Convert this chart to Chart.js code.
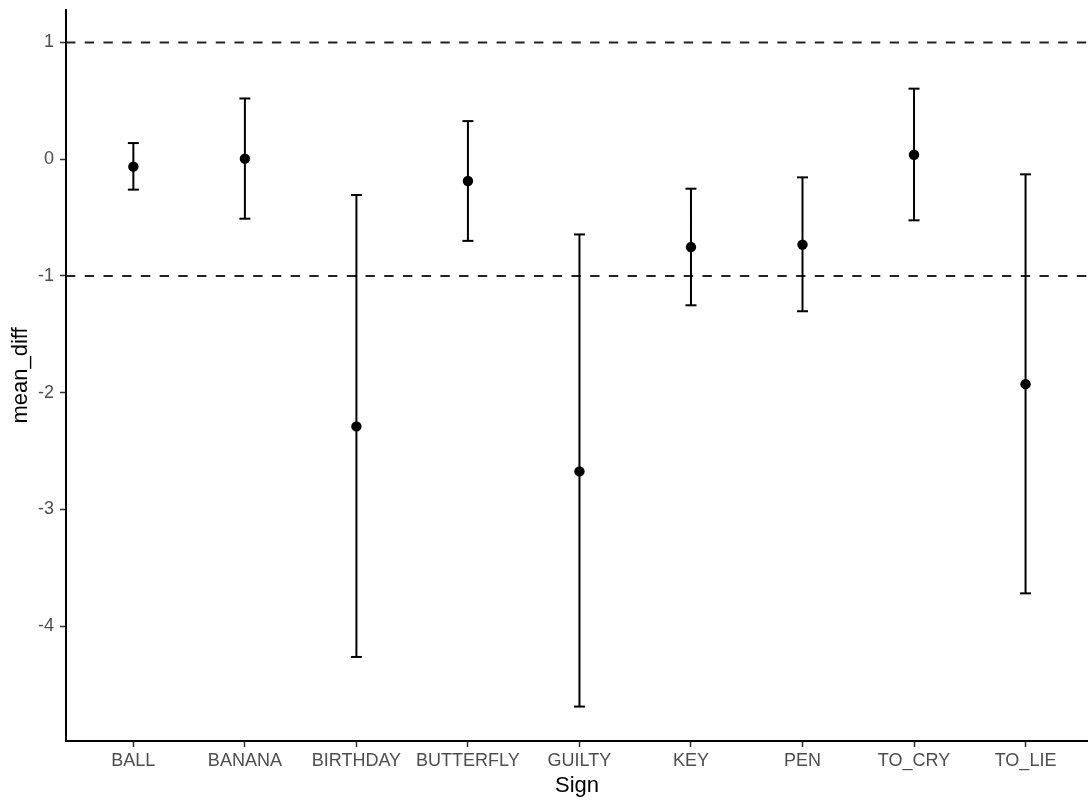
<!DOCTYPE html>
<html><head><meta charset="utf-8">
<script src="https://cdn.jsdelivr.net/npm/chart.js@4/dist/chart.umd.min.js"></script>
<style>html,body{margin:0;padding:0;background:#fff}#wrap{width:1088px;height:800px}</style>
</head><body><div id="wrap"><canvas id="c" width="1088" height="800"></canvas></div>
<script>
const categories = ["BALL","BANANA","BIRTHDAY","BUTTERFLY","GUILTY","KEY","PEN","TO_CRY","TO_LIE"];
const meanDiff  = [-0.064, 0.004, -2.29, -0.187, -2.675, -0.753, -0.732, 0.038, -1.928];
const ciLower   = [-0.261, -0.51, -4.265, -0.70, -4.69, -1.252, -1.303, -0.524, -3.72];
const ciUpper   = [0.138, 0.52, -0.307, 0.326, -0.645, -0.253, -0.156, 0.604, -0.13];
const yTickValues = [-4,-3,-2,-1,0,1];
const refLines = [1,-1];
const xMin = 0.396, xMax = 9.56, yMin = -4.985, yMax = 1.278;

const pointData = categories.map((c,i)=>({x:i+1, y:meanDiff[i]}));
const ciData = categories.flatMap((c,i)=>[{x:i+1,y:ciLower[i]},{x:i+1,y:ciUpper[i]},{x:i+1,y:null}]);
const refSets = refLines.map(v=>({
  data:[{x:xMin,y:v},{x:xMax,y:v}], showLine:true, borderColor:'#222', borderWidth:2,
  borderDash:[9.36,9.36], pointRadius:0, order:3
}));

const fontFam = '"Liberation Sans", Arial, sans-serif';
new Chart(document.getElementById('c'), {
  type:'scatter',
  data:{datasets:[
    {data:pointData, pointRadius:5.2, pointBackgroundColor:'#000', pointBorderWidth:0, order:0},
    {data:ciData, showLine:true, spanGaps:false, borderColor:'#000', borderWidth:2,
     pointStyle:'line', pointRadius:5.5, pointBorderColor:'#000', pointBorderWidth:2, order:1},
    ...refSets
  ]},
  options:{
    responsive:false, animation:false,
    layout:{autoPadding:false, padding:{top:10,right:0,left:0,bottom:0}},
    plugins:{legend:{display:false}, tooltip:{enabled:false}},
    scales:{
      x:{type:'linear', min:xMin, max:xMax,
        afterBuildTicks:(ax)=>{ax.ticks = categories.map((c,i)=>({value:i+1}));},
        afterFit:(ax)=>{ax.height = 59; ax.paddingLeft = 0; ax.paddingRight = 0;},
        ticks:{autoSkip:false, maxRotation:0, padding:3, color:'#4d4d4d',
          font:{family:fontFam,size:18}, callback:(v)=>categories[Math.round(v)-1]},
        grid:{drawOnChartArea:false, tickLength:6, tickColor:'#333', tickWidth:1.5},
        border:{display:true, color:'#000', width:2},
        title:{display:true, text:'Sign', color:'#000', font:{family:fontFam,size:22}, padding:{top:0,bottom:1}}
      },
      y:{type:'linear', min:yMin, max:yMax,
        afterBuildTicks:(ax)=>{ax.ticks = yTickValues.map(v=>({value:v}));},
        afterFit:(ax)=>{ax.width = 66; ax.paddingTop = 0; ax.paddingBottom = 0;},
        ticks:{padding:6, color:'#4d4d4d', font:{family:fontFam,size:18}, callback:(v)=>String(v)},
        grid:{drawOnChartArea:false, tickLength:6, tickColor:'#333', tickWidth:1.5},
        border:{display:true, color:'#000', width:2},
        title:{display:true, text:'mean_diff', color:'#000', font:{family:fontFam,size:22}, padding:{top:8,bottom:0}}
      }
    }
  }
});
</script></body></html>
